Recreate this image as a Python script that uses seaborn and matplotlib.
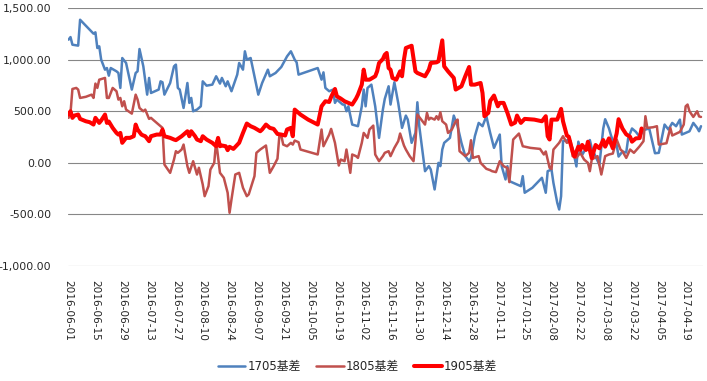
import numpy as np
import pandas as pd
import matplotlib
matplotlib.use("Agg")
import matplotlib.pyplot as plt
import seaborn as sns

# ---------------- data ----------------
start_date = "2016-06-01"

days_1705 = [0, 1, 2, 5, 6, 13, 14, 15, 16, 17, 19, 20, 21, 22, 25, 26, 27, 28, 30, 33, 35, 36, 37, 39, 41, 42, 43,
             47, 48, 49, 50, 53, 55, 56, 57, 58, 60, 62, 63, 64, 65, 67, 69, 70, 72, 75, 77, 79, 80, 82, 83, 85, 88,
             89, 91, 92, 93, 95, 97, 99, 101, 104, 105, 108, 110, 111, 114, 116, 118, 119, 120, 125, 130, 132, 133,
             134, 136, 138, 139, 140, 143, 144, 145, 146, 148, 151, 153, 154, 155, 156, 158, 160, 162, 164, 165, 167,
             168, 170, 172, 174, 176, 177, 179, 181, 182, 183, 185, 186, 188, 189, 191, 193, 194, 195, 196, 199, 201,
             203, 205, 207, 209, 210, 212, 214, 216, 218, 220, 222, 225, 226, 228, 229, 230, 232, 234, 236, 237, 238,
             242, 247, 249, 250, 252, 253, 255, 256, 257, 258, 261, 263, 265, 266, 268, 271, 272, 273, 275, 277, 279,
             280, 282, 283, 285, 286, 287, 289, 291, 292, 294, 296, 298, 300, 303, 306, 308, 311, 313, 315, 317, 319,
             320, 322, 324, 326, 328, 329, 330]
vals_1705 = [1194, 1219, 1145, 1136, 1387, 1252, 1265, 1113, 1129, 1000, 903, 919, 845, 919, 887, 871, 726, 1016, 968,
             710, 871, 887, 1103, 935, 661, 823, 677, 710, 790, 781, 661, 774, 935, 952, 726, 710, 532, 774, 581, 629,
             500, 516, 548, 790, 748, 758, 839, 768, 823, 742, 790, 694, 855, 968, 903, 1081, 1000, 1016, 839, 661,
             774, 903, 839, 871, 910, 929, 1032, 1081, 1000, 974, 855, 887, 919, 806, 877, 726, 694, 710, 581, 613,
             565, 565, 500, 548, 371, 355, 548, 710, 548, 726, 758, 548, 242, 516, 620, 742, 565, 781, 581, 339, 458,
             419, 194, 290, 587, 355, 65, -81, -32, -65, -258, 0, -32, 129, 194, 242, 458, 355, 194, 65, 16, 48, 258,
             387, 355, 452, 290, 145, 274, -32, -161, -32, -177, -194, -210, -226, -129, -290, -242, -145, -290, -81,
             -65, -194, -387, -452, -323, 210, 221, 141, -35, 205, 77, 173, 221, 141, 61, -19, 333, 423, 333, 269,
             157, 173, 61, 109, 100, 237, 333, 301, 253, 317, 333, 93, 97, 371, 323, 387, 355, 419, 274, 290, 306,
             387, 339, 306, 355]

days_1805 = [0, 1, 2, 4, 5, 6, 9, 12, 13, 14, 15, 16, 19, 20, 21, 23, 25, 26, 27, 28, 29, 30, 33, 35, 36, 37, 39, 40,
             42, 43, 44, 46, 49, 50, 53, 55, 56, 57, 59, 60, 62, 63, 65, 67, 68, 70, 71, 73, 74, 76, 77, 79, 81, 83,
             84, 85, 87, 89, 91, 93, 94, 97, 98, 100, 103, 105, 107, 109, 110, 111, 112, 114, 116, 117, 118, 120, 121,
             124, 127, 130, 132, 133, 136, 137, 139, 141, 142, 144, 145, 146, 147, 148, 150, 151, 153, 154, 156, 157,
             159, 160, 162, 164, 165, 167, 168, 170, 172, 173, 175, 176, 178, 180, 181, 182, 184, 186, 187, 188, 189,
             191, 192, 193, 194, 195, 197, 198, 200, 202, 203, 204, 206, 207, 209, 210, 211, 214, 215, 218, 220, 221,
             223, 225, 227, 229, 230, 232, 235, 237, 241, 246, 248, 249, 251, 252, 253, 256, 258, 260, 262, 263, 265,
             267, 269, 271, 272, 273, 276, 278, 280, 282, 284, 286, 288, 289, 291, 293, 295, 298, 300, 301, 302, 305,
             307, 308, 312, 314, 315, 319, 321, 322, 323, 324, 326, 328, 329, 330]
vals_1805 = [436, 484, 716, 726, 710, 629, 640, 661, 629, 768, 726, 806, 823, 629, 629, 726, 694, 613, 629, 548, 597,
             516, 477, 661, 613, 532, 500, 516, 426, 436, 419, 387, 339, -16, -97, 32, 113, 97, 129, 177, -32, -97,
             16, -113, -48, -210, -323, -226, -65, 0, 210, -97, -145, -290, -484, -355, -113, -97, -242, -323, -306,
             -129, 97, 129, 168, -97, -32, 40, 265, 265, 177, 161, 194, 177, 216, 200, 129, 113, 97, 81, 323, 161,
             274, 329, 194, -26, 32, 16, 129, 16, -97, 81, 65, 48, 194, 290, 242, 323, 361, 81, 16, 65, 97, 113, 65,
             145, 210, 284, 168, 129, 65, 16, 210, 468, 419, 371, 484, 419, 436, 419, 452, 419, 490, 403, 371, 290,
             323, 403, 419, 113, 81, 65, 97, 219, 48, 65, 0, -58, -71, -81, -90, 16, -32, -50, -187, 226, 284, 161,
             145, 135, 81, 110, -48, -60, 129, 194, 258, 194, 210, 65, 50, 97, 32, 0, -81, 32, 65, -113, 65, 81, 90,
             226, 129, 113, 48, 129, 97, 161, 210, 452, 339, 345, 355, 177, 190, 339, 265, 300, 371, 548, 565, 500,
             445, 500, 450, 445]

days_1905 = [0, 1, 2, 3, 5, 6, 9, 11, 13, 14, 16, 17, 19, 20, 21, 23, 25, 26, 27, 28, 30, 32, 34, 35, 36, 38, 39, 40,
             42, 43, 46, 48, 49, 50, 53, 55, 56, 59, 60, 62, 63, 64, 66, 67, 69, 70, 72, 73, 75, 77, 78, 79, 80, 82,
             83, 84, 86, 87, 89, 91, 93, 95, 97, 100, 101, 103, 105, 107, 109, 111, 113, 114, 116, 117, 118, 121, 125,
             130, 132, 134, 136, 137, 139, 140, 142, 144, 146, 148, 150, 151, 153, 154, 155, 157, 160, 161, 162, 164,
             165, 166, 167, 168, 169, 171, 173, 174, 175, 176, 179, 181, 182, 186, 188, 189, 192, 193, 195, 196, 198,
             201, 202, 205, 207, 209, 210, 212, 215, 216, 217, 219, 220, 222, 224, 225, 227, 229, 231, 233, 234, 236,
             238, 243, 247, 249, 250, 251, 252, 255, 257, 258, 260, 261, 263, 264, 266, 267, 268, 270, 271, 272, 273,
             275, 277, 279, 280, 282, 284, 286, 287, 289, 291, 293, 294, 296, 298, 299]
vals_1905 = [468, 500, 436, 458, 468, 426, 403, 394, 371, 436, 387, 410, 468, 387, 400, 339, 290, 274, 290, 194, 242,
             242, 258, 371, 323, 274, 265, 258, 210, 258, 274, 274, 323, 258, 242, 226, 220, 258, 274, 306, 258, 306,
             258, 226, 210, 258, 226, 215, 194, 161, 242, 161, 168, 161, 123, 155, 135, 155, 194, 290, 381, 355, 339,
             306, 323, 371, 339, 329, 280, 274, 265, 323, 339, 258, 516, 468, 419, 371, 548, 597, 590, 639, 716, 645,
             623, 597, 581, 565, 623, 661, 758, 903, 806, 806, 839, 887, 968, 1006, 1048, 1065, 919, 903, 823, 806,
             887, 839, 1000, 1113, 1135, 887, 871, 839, 903, 968, 974, 984, 1187, 935, 887, 823, 710, 742, 839, 929,
             758, 758, 774, 677, 452, 484, 600, 652, 548, 581, 581, 484, 371, 390, 458, 387, 426, 419, 403, 452, 258,
             226, 419, 419, 523, 403, 265, 253, 109, 61, 157, 125, 173, 125, 205, 125, 45, 173, 141, 221, 157, 237,
             141, 285, 423, 333, 276, 253, 205, 237, 240, 333]

series_names = ["1705基差", "1805基差", "1905基差"]
series_colors = ["#4F81BD", "#C0504D", "#FF0000"]
series_widths = [1.8, 1.8, 2.9]

y_ticks = [-1000, -500, 0, 500, 1000, 1500]
x_tick_labels = ["2016-06-01", "2016-06-15", "2016-06-29", "2016-07-13", "2016-07-27", "2016-08-10",
                 "2016-08-24", "2016-09-07", "2016-09-21", "2016-10-05", "2016-10-19", "2016-11-02",
                 "2016-11-16", "2016-11-30", "2016-12-14", "2016-12-28", "2017-01-11", "2017-01-25",
                 "2017-02-08", "2017-02-22", "2017-03-08", "2017-03-22", "2017-04-05", "2017-04-19"]

# ---------------- build frames ----------------
t0 = pd.Timestamp(start_date)
frames = []
for name, d, v in [(series_names[0], days_1705, vals_1705),
                   (series_names[1], days_1805, vals_1805),
                   (series_names[2], days_1905, vals_1905)]:
    frames.append(pd.DataFrame({"date": t0 + pd.to_timedelta(d, unit="D"), "value": v, "series": name}))

# ---------------- plot ----------------
sns.set_style("white")
plt.rcParams["font.family"] = ["DejaVu Sans", "Noto Sans CJK SC"]

fig = plt.figure(figsize=(7.07, 3.81), dpi=100)
ax = fig.add_axes([0.0962, 0.3018, 0.898, 0.677])

for df, c, lw in zip(frames, series_colors, series_widths):
    sns.lineplot(data=df, x="date", y="value", ax=ax, color=c, linewidth=lw,
                 label=df["series"].iloc[0], estimator=None, sort=True,
                 solid_joinstyle="round", solid_capstyle="round")

ax.set_ylim(-1000, 1500)
ax.set_yticks(y_ticks)
ax.set_yticklabels([f"{v:,.2f}" for v in y_ticks], fontsize=7.8)
ax.set_xlim(t0 - pd.Timedelta(days=0.3), t0 + pd.Timedelta(days=331))
xt = pd.to_datetime(x_tick_labels)
ax.set_xticks(xt)
ax.set_xticklabels(x_tick_labels, rotation=270, ha="center", va="top", fontsize=7.6)
ax.tick_params(axis="x", length=0, pad=10)
ax.tick_params(axis="y", length=0, pad=12)
ax.grid(axis="y", color="#878787", linewidth=0.8)
ax.grid(axis="x", visible=False)
for s in ax.spines.values():
    s.set_visible(False)
ax.set_xlabel("")
ax.set_ylabel("")

handles, labels = ax.get_legend_handles_labels()
ax.get_legend().remove()
fig.legend(handles, labels, loc="center", bbox_to_anchor=(0.506, 0.037), ncol=3, frameon=False,
           handlelength=2.3, handletextpad=0.2, columnspacing=1.3, fontsize=8.5)

fig.savefig("out.png", dpi=100)
